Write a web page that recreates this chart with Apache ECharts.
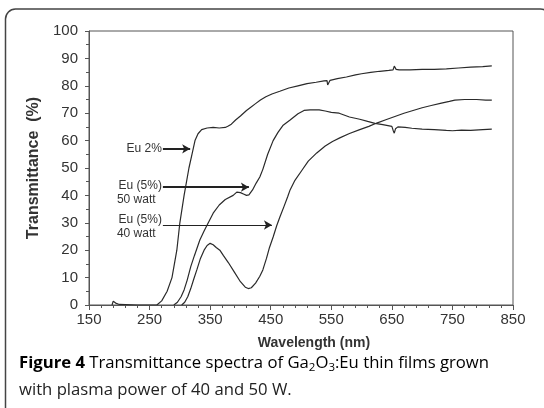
<!DOCTYPE html>
<html><head><meta charset="utf-8">
<script src="https://cdn.jsdelivr.net/npm/echarts@6/dist/echarts.min.js"></script>
<style>html,body{margin:0;padding:0;background:#fff}#c{width:544px;height:408px}</style>
</head><body><div id="c"></div>
<script>
// Wavelength (nm), Transmittance (%)
var eu2Wl = [188,190,194,200,230,262,270,279,287,291,295,300,307,315,320,325,330,336,345,355,365,375,380,385,392,400,410,416,425,433,442,452,465,480,495,510,525,538,543,544,546,548,560,575,590,600,615,630,645,652,654,655,657,662,680,700,720,740,760,780,800,815];
var eu2T  = [0,1.4,0.7,0.2,0,0,1.5,5,10,15,20,30,40,50,55,60,62.5,64,64.6,64.8,64.6,64.8,65.3,66,67.5,69,71,72,73.5,74.8,76,77,78,79.2,80,80.8,81.3,81.8,81.9,80.3,80.6,82,82.6,83.2,84,84.4,84.9,85.3,85.6,85.8,87.2,86.6,86,85.8,85.8,86,86,86.2,86.5,86.8,87,87.3];

var w50Wl = [290,296,302,307,312,318,324,333,340,348,355,365,375,388,394,400,405,410,414,420,426,432,437,445,454,462,470,482,495,505,515,530,540,550,563,580,597,610,622,635,650,652,654,656,660,672,683,700,720,740,750,765,780,800,815];
var w50T  = [0,1,3,5.5,9,14,18,23.7,27,30.5,33.5,36.5,38.5,40,41.2,41,40.5,40,40.2,42,44.5,46.7,49.5,55,60,63,65.5,67.5,69.8,71,71.2,71.2,70.8,70.3,70,68.6,67.8,67,66.3,65.8,65.2,63.8,62.7,64.3,65,64.8,64.5,64.2,64,63.7,63.6,63.8,63.7,64,64.2];

var w40Wl = [303,308,313,318,323,328,334,340,345,350,355,360,366,372,380,390,400,408,413,418,425,432,437,443,448,454,460,465,472,478,482,490,501,512,526,540,552,564,580,597,612,625,640,655,670,685,700,715,730,745,754,770,790,805,815];
var w40T  = [0,1,3,6,9.5,12.8,17,20,21.7,22.5,22,21,20,18,15.5,12,8.5,6.5,6,6.3,8,10.5,12.8,17,21,24.8,29,32,36,39.5,42,45.5,49,52.5,55.5,58,59.7,61,62.6,64,65.2,66.4,67.6,68.8,70,71,72,72.8,73.6,74.3,74.8,75,75,74.8,74.8];

var xTicks = [150,250,350,450,550,650,750,850];
var yTicks = [0,10,20,30,40,50,60,70,80,90,100];

// annotation arrows: [label lines, start wl, end wl, T, line width]
var annLabels = [["Eu 2%"], ["Eu (5%)","50 watt"], ["Eu (5%)","40 watt"]];
var annStart = [272, 272, 272];
var annEnd   = [317, 414, 452];
var annT     = [57, 43, 29.2];
var annWidth = [2, 2, 1];

function zip(a,b){return a.map(function(v,i){return [v,b[i]];});}

var chart = echarts.init(document.getElementById('c'));
var lineColor = '#2a2a2a';
var axisCol = '#555';
var tf = 'Liberation Sans, Arial, sans-serif';

function mk(name, wl, t, extra){
  var s = {type:'line', name:name, data:zip(wl,t), showSymbol:false, symbol:'none',
    lineStyle:{color:lineColor, width:1.2}, z:3, animation:false};
  if (extra) s.markLine = extra;
  return s;
}
var arrowData = annStart.map(function(s,i){
  return [{coord:[s, annT[i]], lineStyle:{width:annWidth[i], color:'#222', type:'solid'}},
          {coord:[annEnd[i], annT[i]]}];
});
var ml = {silent:true, symbol:['none','arrow'], symbolSize:[7,8], label:{show:false},
  lineStyle:{color:'#222', type:'solid'}, data:arrowData, animation:false};

var option = {
  animation:false,
  grid:{left:89, right:31, top:31, bottom:103, show:true, borderColor:axisCol, borderWidth:1, backgroundColor:'transparent'},
  xAxis:{type:'value', min:150, max:850, interval:100,
    axisLine:{show:true, lineStyle:{color:axisCol, width:1}},
    axisTick:{show:true, inside:false, length:5, lineStyle:{color:axisCol}},
    minorTick:{show:true, splitNumber:5, length:3, lineStyle:{color:axisCol}},
    splitLine:{show:false},
    axisLabel:{color:'#333', fontSize:15, fontFamily:tf, margin:7},
    name:'Wavelength (nm)', nameLocation:'middle', nameGap:31,
    nameTextStyle:{color:'#333', fontSize:14, fontWeight:'bold', fontFamily:tf, padding:[0,0,0,26]}
  },
  yAxis:{type:'value', min:0, max:100, interval:10,
    axisLine:{show:true, lineStyle:{color:axisCol, width:1}},
    axisTick:{show:true, inside:false, length:4, lineStyle:{color:axisCol}},
    minorTick:{show:true, splitNumber:2, length:3, lineStyle:{color:axisCol}},
    splitLine:{show:false},
    axisLabel:{color:'#333', fontSize:15, fontFamily:tf, margin:11},
    name:'Transmittance  (%)', nameLocation:'middle', nameGap:42,
    nameTextStyle:{color:'#333', fontSize:16, fontWeight:'bold', fontFamily:tf}
  },
  series:[mk('Eu 2%', eu2Wl, eu2T, ml), mk('Eu 5% 50 W', w50Wl, w50T), mk('Eu 5% 40 W', w40Wl, w40T)]
};
chart.setOption(option);

var g = [{type:'rect', shape:{x:5.5, y:9, width:545, height:430, r:10}, style:{fill:'none', stroke:'#444', lineWidth:1.5}, silent:true}];
annLabels.forEach(function(lines,i){
  var p = chart.convertToPixel({gridIndex:0}, [annStart[i], annT[i]]);
  var dy = (lines.length === 1) ? 0 : (i === 1 ? -1 : -5);
  g.push({type:'text', x:p[0]-1, y:p[1]+dy, style:{text:lines[0], align:'right', verticalAlign:'middle', fontSize:12, fontFamily:tf, fill:'#333'}, silent:true});
  if (lines.length > 1) {
    g.push({type:'text', x:p[0]-46, y:p[1]+dy+14, style:{text:lines[1], align:'left', verticalAlign:'middle', fontSize:12, fontFamily:tf, fill:'#333'}, silent:true});
  }
});
var cf = '"Open Sans", Lato, sans-serif';
var cs = 16.7;
var capRich = {b:{fontWeight:'bold', fontSize:cs, fontFamily:cf, color:'#222'},
  n:{fontSize:cs, fontFamily:cf, color:'#222'},
  sub:{fontSize:11.5, fontFamily:cf, color:'#222', verticalAlign:'bottom'}};
g.push({type:'text', x:19, y:363, style:{text:'{b|Figure 4}{n| Transmittance spectra of Ga}{sub|2}{n|O}{sub|3}{n|:Eu thin films grown}', rich:capRich, verticalAlign:'middle', lineHeight:21}, silent:true});
g.push({type:'text', x:19, y:390, style:{text:'with plasma power of 40 and 50 W.', fontSize:cs, fontFamily:cf, fill:'#222', verticalAlign:'middle'}, silent:true});
chart.setOption({graphic:g});
</script></body></html>
